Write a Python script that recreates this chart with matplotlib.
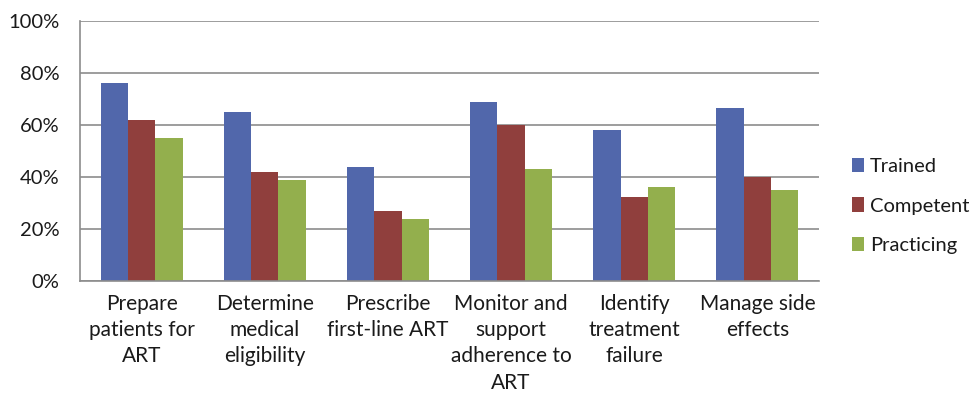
import numpy as np
import matplotlib.pyplot as plt
from matplotlib.ticker import FuncFormatter

plt.rcParams['font.family'] = ['Lato', 'DejaVu Sans']

categories = ["Prepare\npatients for\nART", "Determine\nmedical\neligibility",
              "Prescribe\nfirst-line ART", "Monitor and\nsupport\nadherence to\nART",
              "Identify\ntreatment\nfailure", "Manage side\neffects"]
trained = [76, 65, 44, 69, 58, 66.5]
competent = [62, 42, 27, 60, 32.5, 40]
practicing = [55, 39, 24, 43, 36, 35]

series = [("Trained", trained, '#5167AB'),
          ("Competent", competent, '#903F3D'),
          ("Practicing", practicing, '#93AF4D')]

fig = plt.figure(figsize=(9.71, 3.95), dpi=100)
ax = fig.add_axes([80 / 971, 1 - 281 / 395, 739 / 971, 260 / 395])

x = np.arange(len(categories))
w = 1 / 4.5
for i, (name, vals, col) in enumerate(series):
    ax.bar(x + (i - 1) * w, vals, w, color=col, label=name, zorder=3)

ax.set_xlim(-0.5, len(categories) - 0.5)
ax.set_ylim(0, 100)
ax.set_yticks(np.arange(0, 101, 20))
ax.yaxis.set_major_formatter(FuncFormatter(lambda v, p: f"{int(v)}%"))
ax.set_xticks(x)
ax.set_xticklabels(categories, fontsize=15, linespacing=1.4, va='top')
ax.tick_params(axis='both', length=0, colors='#1a1a1a')
ax.tick_params(axis='x', pad=9)
ax.tick_params(axis='y', pad=15, labelsize=14.5)
ax.grid(axis='y', color='#8c8c8c', linewidth=1.2, zorder=0)
for s in ['top', 'right']:
    ax.spines[s].set_visible(False)
for s in ['left', 'bottom']:
    ax.spines[s].set_color('#8c8c8c')
    ax.spines[s].set_linewidth(1.2)
    ax.spines[s].set_zorder(4)

leg = ax.legend(loc='center left', bbox_to_anchor=(852 / 971, 1 - 206 / 395),
                bbox_transform=fig.transFigure, frameon=False, fontsize=14.5,
                borderaxespad=0, borderpad=0,
                handlelength=0.6, handleheight=0.7, handletextpad=0.3, labelspacing=1.1)
for t in leg.get_texts():
    t.set_color('#1a1a1a')

fig.savefig('out.png', dpi=100)
